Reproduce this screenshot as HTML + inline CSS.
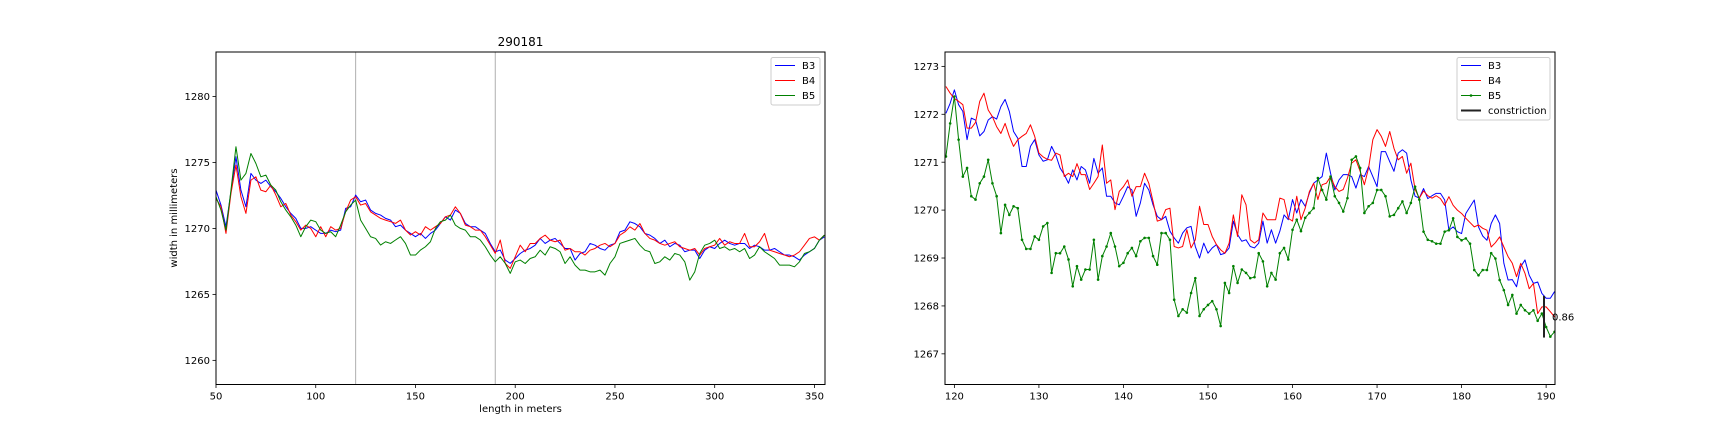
<!DOCTYPE html>
<html><head><meta charset="utf-8"><style>
html,body{margin:0;padding:0;background:#fff;}
svg{display:block;font-family:"DejaVu Sans","Liberation Sans",sans-serif;}
</style></head><body>
<svg id="fig" width="1728" height="432" viewBox="0 0 1728 432" xmlns="http://www.w3.org/2000/svg">
<rect width="1728" height="432" fill="#fff"/>
<g id="left"></g>
<g id="right"></g>
</svg>
<script>
// ---------- LEFT CHART DATA (length start 50 m, step 2.5 m) ----------
const leftStart = 50, leftStep = 2.5;
const leftXTicks = [50,100,150,200,250,300,350];
const leftYTicks = [1260,1265,1270,1275,1280];
const leftMarkers = [120,190];
const leftB3 = [1272.9,1271.77,1270.13,1272.78,1275.43,1272.9,1271.64,1274.17,1273.66,1273.41,1273.66,1273.16,1272.78,1272.27,1271.64,1271.14,1270.76,1270.0,1270.0,1270.13,1269.87,1269.62,1269.62,1269.87,1269.75,1269.87,1271.52,1271.64,1272.53,1272.02,1272.15,1271.39,1271.14,1271.01,1270.76,1270.63,1270.13,1270.25,1269.87,1269.62,1269.37,1269.62,1269.24,1269.62,1269.87,1270.38,1270.88,1270.63,1271.39,1271.14,1270.38,1270.13,1270.13,1269.87,1269.62,1268.86,1268.23,1268.36,1267.6,1267.35,
1267.72,1268.1,1268.35,1268.48,1268.73,1269.24,1268.86,1269.11,1269.24,1268.86,1268.48,1268.48,1267.6,1268.1,1268.23,1268.86,1268.73,1268.48,1268.35,1268.73,1268.86,1269.74,1269.87,1270.5,1270.37,1270.12,1269.62,1269.49,1269.24,1268.86,1269.11,1268.61,1268.86,1268.73,1268.23,1268.35,1268.35,1267.72,1268.35,1268.61,1268.48,1268.86,1269.11,1268.86,1268.73,1268.86,1268.86,1268.48,1268.73,1268.61,1268.35,1268.35,1268.48,1268.23,1267.98,1267.98,1267.85,1267.6,1267.98,1268.23,1268.48,1269.11,1269.36];
const leftB4 = [1272.27,1271.64,1269.62,1272.65,1274.8,1272.4,1271.14,1273.66,1273.91,1272.9,1272.78,1273.28,1272.53,1271.64,1271.89,1271.01,1270.51,1269.87,1270.25,1270.0,1269.37,1270.13,1269.37,1270.13,1269.87,1270.0,1271.26,1272.15,1272.4,1271.77,1271.89,1271.26,1271.01,1270.76,1270.63,1270.51,1270.38,1270.63,1269.87,1269.5,1269.75,1269.5,1270.13,1269.87,1270.13,1270.38,1270.88,1271.01,1271.64,1271.14,1270.25,1270.13,1269.87,1269.87,1269.37,1268.74,1268.11,1269.12,1267.35,1266.97,
1267.85,1268.73,1268.23,1268.86,1268.86,1269.24,1269.49,1269.11,1268.99,1269.11,1268.35,1268.48,1268.23,1268.23,1267.98,1268.35,1268.48,1268.73,1268.86,1268.61,1268.86,1269.49,1269.74,1270.12,1269.87,1270.37,1269.62,1269.24,1269.11,1268.86,1268.73,1268.86,1268.99,1268.61,1268.48,1268.35,1268.48,1267.98,1268.48,1268.61,1268.73,1269.24,1268.73,1268.99,1268.86,1268.86,1269.62,1268.61,1268.61,1268.99,1269.62,1268.35,1268.23,1268.1,1267.98,1267.85,1267.98,1268.23,1268.73,1269.24,1269.36,1269.11,1269.49];
const leftB5 = [1272.4,1271.39,1269.87,1272.9,1276.19,1273.66,1274.17,1275.68,1274.92,1273.91,1274.04,1273.28,1272.9,1272.02,1271.39,1270.88,1270.25,1269.37,1270.13,1270.63,1270.51,1269.87,1269.62,1269.75,1269.37,1270.25,1271.26,1271.77,1272.15,1270.63,1270.0,1269.37,1269.24,1268.74,1268.99,1268.86,1269.12,1269.37,1268.86,1267.98,1267.98,1268.36,1268.61,1268.99,1270.0,1270.51,1270.63,1271.01,1270.25,1270.0,1269.87,1269.37,1269.37,1269.12,1268.61,1267.98,1267.47,1267.85,1267.35,1266.59,
1267.47,1267.6,1267.34,1267.72,1267.85,1268.35,1267.98,1268.61,1268.48,1268.23,1267.34,1267.85,1267.22,1266.84,1266.84,1266.71,1266.71,1266.84,1266.46,1267.34,1267.85,1268.86,1268.99,1269.11,1269.24,1268.73,1268.35,1268.23,1267.34,1267.47,1267.85,1267.6,1268.1,1267.98,1267.47,1266.08,1266.71,1268.1,1268.73,1268.86,1269.11,1268.48,1268.61,1268.35,1268.48,1268.23,1268.48,1267.72,1267.98,1268.61,1268.23,1267.98,1267.72,1267.22,1267.22,1267.22,1267.09,1267.47,1268.1,1268.23,1268.48,1269.11,1269.49];

// ---------- RIGHT CHART DATA (length start 119 m, step 0.5 m) ----------
const rightStart = 119, rightStep = 0.5;
const rightXTicks = [120,130,140,150,160,170,180,190];
const rightYTicks = [1267,1268,1269,1270,1271,1272,1273];
const constrictionAt = [189.75];
const constrictionRange = [1268.21,1267.34];
const constrictionLabel = ["0.86"];
const rightB3 = [1272.02,1272.23,1272.51,1272.2,1272.06,1271.47,1271.92,1271.88,1271.55,1271.64,1271.88,1271.95,1271.9,1272.16,1272.31,1272.06,1271.64,1271.5,1270.91,1270.91,1271.33,1271.47,1271.15,1271.02,1271.05,1271.33,1271.15,1270.88,1270.74,1270.56,1270.84,1270.63,1270.91,1270.84,1270.56,1271.08,1270.77,1270.88,1270.29,1270.29,1270.15,1270.11,1270.29,1270.49,
1270.42,1269.87,1270.15,1270.56,1270.42,1270.11,1269.87,1269.8,1269.87,1269.56,1269.42,1269.31,1269.52,1269.63,1269.66,1269.24,1269.0,1269.31,1269.1,1269.21,1269.28,1269.07,1269.1,1269.21,1269.77,1269.49,1269.35,1269.38,1269.24,1269.21,1269.31,1269.77,1269.31,1269.59,1269.31,1269.56,1269.9,1269.8,1270.22,1269.94,1270.22,1270.08,1270.36,1270.56,1270.63,1270.7,1271.19,1270.77,1270.42,1270.63,1270.74,1270.74,1270.7,1270.46,1270.74,1270.7,1270.91,1270.7,1270.49,1271.22,1271.22,1271.01,1270.81,1271.19,1271.26,1271.19,1270.63,1270.29,1270.25,
1270.45,1270.24,1270.3,1270.35,
1270.35,1270.21,1269.58,1269.65,1269.55,1269.51,1269.93,1270.07,1270.21,1269.65,1269.46,1269.37,1269.72,1269.9,1269.72,1268.89,1268.54,1268.55,1268.4,1268.82,1268.96,1268.64,1268.47,1268.5,1268.26,1268.16,1268.16,1268.3];
const rightB4 = [1272.58,1272.44,1272.33,1272.27,1272.2,1271.71,1271.71,1271.83,1272.27,1272.44,1272.09,1271.95,1271.74,1271.6,1271.81,1271.54,1271.33,1271.47,1271.54,1271.6,1271.78,1271.54,1271.19,1271.11,1271.06,1271.04,1271.19,1271.15,1270.7,1270.77,1270.7,1270.97,1270.74,1270.74,1270.43,1270.56,1270.7,1271.36,1270.56,1270.63,1270.01,1270.39,1270.49,1270.63,
1270.29,1270.49,1270.49,1270.77,1270.56,1270.18,1269.77,1269.8,1270.01,1270.04,1269.24,1269.21,1269.24,1269.59,1269.21,1269.38,1270.08,1269.7,1269.7,1269.45,1269.28,1269.17,1269.1,1269.31,1269.9,1269.45,1270.32,1270.11,1269.38,1269.31,1269.38,1269.94,1269.8,1269.8,1269.8,1270.25,1270.22,1269.83,1269.77,1270.29,1269.8,1270.04,1270.39,1270.56,1270.22,1270.53,1270.56,1270.7,1270.49,1270.39,1270.43,1270.67,1270.98,1271.05,1270.81,1270.53,1270.88,1271.47,1271.68,1271.54,1271.33,1271.64,1271.29,1271.05,1271.12,1270.77,1270.98,1270.43,1270.25,
1270.4,1270.3,1270.25,1270.3,
1270.24,1270.1,1270.28,1270.1,1270.0,1269.93,1269.83,1269.74,1269.65,1269.69,1269.62,1269.58,1269.23,1269.32,1269.44,1269.23,1269.03,1268.89,1268.61,1268.89,1268.68,1268.36,1268.47,1267.84,1267.98,1267.98,1267.88,1267.77];
const rightB5 = [1271.12,1271.81,1272.37,1271.47,1270.7,1270.88,1270.29,1270.22,1270.56,1270.7,1271.05,1270.56,1270.29,1269.52,1270.11,1269.9,1270.08,1270.04,1269.38,1269.19,1269.19,1269.45,1269.38,1269.66,1269.73,1268.69,1269.1,1269.1,1269.24,1268.97,1268.41,1268.83,1268.55,1268.76,1268.76,1269.38,1268.55,1269.04,1269.24,1269.52,1269.24,1268.83,1268.9,1269.1,
1269.21,1269.04,1269.35,1269.42,1269.42,1269.04,1268.86,1269.52,1269.52,1269.38,1268.13,1267.79,1267.93,1267.86,1268.27,1268.58,1267.79,1267.93,1268.02,1268.1,1267.93,1267.58,1268.48,1268.27,1268.83,1268.48,1268.76,1268.69,1268.58,1268.6,1269.1,1268.93,1268.41,1268.69,1268.55,1269.1,1269.21,1268.97,1269.59,1269.8,1269.56,1269.84,1269.94,1270.04,1270.67,1270.42,1270.22,1270.7,1270.29,1270.15,1269.97,1270.25,1271.05,1271.12,1270.88,1269.94,1270.08,1270.15,1270.42,1270.42,1270.29,1269.87,1269.9,1270.04,1270.18,1269.94,1270.15,1270.49,1270.22,
1269.55,1269.38,1269.35,1269.3,
1269.3,1269.55,1269.58,1269.83,1269.44,1269.37,1269.41,1269.3,1268.75,1268.64,1268.75,1268.75,1269.1,1268.99,1268.54,1268.33,1268.02,1268.23,1267.84,1268.02,1267.91,1267.84,1267.91,1267.69,1267.84,1267.56,1267.36,1267.46];

const NS = "http://www.w3.org/2000/svg";
function mk(parent, tag, attrs, text){
  const e = document.createElementNS(NS, tag);
  for (const k in attrs) e.setAttribute(k, attrs[k]);
  if (text !== undefined) e.textContent = text;
  parent.appendChild(e);
  return e;
}
function lin(d0,d1,r0,r1){ return v => r0 + (v-d0)*(r1-r0)/(d1-d0); }

function axesFrame(g, L, T, R, B, xs, ys, xTicks, yTicks){
  const frame = mk(g,'rect',{x:L,y:T,width:R-L,height:B-T,fill:'none',stroke:'#000','stroke-width':1});
  
  
  xTicks.forEach(t=>{
    const x = xs(t);
    const tk = mk(g,'line',{x1:x,y1:B,x2:x,y2:B+3.5,stroke:'#000','stroke-width':0.8});
    
    
    const lb = mk(g,'text',{x:x,y:B+15,'font-size':10,'text-anchor':'middle',fill:'#000'},String(t));
    
    
  });
  yTicks.forEach(t=>{
    const y = ys(t);
    const tk = mk(g,'line',{x1:L-3.5,y1:y,x2:L,y2:y,stroke:'#000','stroke-width':0.8});
    
    
    const lb = mk(g,'text',{x:L-6,y:y+3.6,'font-size':10,'text-anchor':'end',fill:'#000'},String(t));
    
    
  });
}
function series(g, arr, start, step, xs, ys, color, name, markers){
  const pts = arr.map((v,i)=> xs(start+i*step).toFixed(2)+','+ys(v).toFixed(2)).join(' ');
  const pl = mk(g,'polyline',{points:pts,fill:'none',stroke:color,'stroke-width':1,'stroke-linejoin':'round'});
  
  
  if (markers){
    arr.forEach((v,i)=>{
      const c = mk(g,'circle',{cx:xs(start+i*step),cy:ys(v),r:1.3,fill:color});
      
      
    });
  }
}
function legend(g, x0, y0, w, h, entries){
  const box = mk(g,'rect',{x:x0,y:y0,width:w,height:h,rx:2,fill:'#fff','fill-opacity':0.8,stroke:'#ccc','stroke-width':1});
  
  
  entries.forEach((e,i)=>{
    const y = y0+8+i*15;
    const ln = mk(g,'line',{x1:x0+4,y1:y,x2:x0+24,y2:y,stroke:e.c,'stroke-width':e.w||1});
    
    
    if (e.m){
      const c = mk(g,'circle',{cx:x0+14,cy:y,r:1.3,fill:e.c});
      
      
    }
    const t = mk(g,'text',{x:x0+31,y:y+3.6,'font-size':10,fill:'#000'},e.t);
    
    
  });
}

// ----- left chart -----
(function(){
  const g = document.getElementById('left');
  const L=216,R=825,T=52,B=384.5;
  const xs = lin(50,355.3,L,R);
  const ys = lin(1258.17,1283.37,B,T);
  const clip = mk(g,'clipPath',{id:'clipL'});
  mk(clip,'rect',{x:L,y:T,width:R-L,height:B-T});
  const plot = mk(g,'g',{'clip-path':'url(#clipL)'});
  
  
  leftMarkers.forEach(m=>{
    const l = mk(plot,'line',{x1:xs(m),y1:T,x2:xs(m),y2:B,stroke:'#b0b0b0','stroke-width':1});
    
    
  });
  series(plot,leftB3,leftStart,leftStep,xs,ys,'#0000ff','series-b3',false);
  series(plot,leftB4,leftStart,leftStep,xs,ys,'#ff0000','series-b4',false);
  series(plot,leftB5,leftStart,leftStep,xs,ys,'#008000','series-b5',false);
  axesFrame(g,L,T,R,B,xs,ys,leftXTicks,leftYTicks);
  const title = mk(g,'text',{x:(L+R)/2,y:46,'font-size':12,'text-anchor':'middle',fill:'#000'},'290181');
  
  
  const xl = mk(g,'text',{x:(L+R)/2,y:412,'font-size':10,'text-anchor':'middle',fill:'#000'},'length in meters');
  
  
  const yl = mk(g,'text',{x:0,y:0,'font-size':10,'text-anchor':'middle',fill:'#000',transform:'translate(177,218) rotate(-90)'},'width in millimeters');
  
  
  legend(g,771,57.5,49,47.5,[{t:'B3',c:'#0000ff'},{t:'B4',c:'#ff0000'},{t:'B5',c:'#008000'}]);
})();

// ----- right chart -----
(function(){
  const g = document.getElementById('right');
  const L=945,R=1555,T=52,B=384.5;
  const xs = lin(118.89,191.05,L,R);
  const ys = lin(1266.36,1273.30,B,T);
  const clip = mk(g,'clipPath',{id:'clipR'});
  mk(clip,'rect',{x:L,y:T,width:R-L,height:B-T});
  const plot = mk(g,'g',{'clip-path':'url(#clipR)'});
  
  
  series(plot,rightB3,rightStart,rightStep,xs,ys,'#0000ff','series-b3',false);
  series(plot,rightB4,rightStart,rightStep,xs,ys,'#ff0000','series-b4',false);
  series(plot,rightB5,rightStart,rightStep,xs,ys,'#008000','series-b5',true);
  const c = mk(plot,'line',{x1:xs(constrictionAt[0]),y1:ys(constrictionRange[0]),x2:xs(constrictionAt[0]),y2:ys(constrictionRange[1]),stroke:'#222','stroke-width':2});
  
  
  axesFrame(g,L,T,R,B,xs,ys,rightXTicks,rightYTicks);
  const lab = mk(g,'text',{x:xs(constrictionAt[0])+8,y:ys((constrictionRange[0]+constrictionRange[1])/2)+3.6,'font-size':10,fill:'#000'},constrictionLabel[0]);
  
  
  legend(g,1457,57.5,93,62.5,[{t:'B3',c:'#0000ff'},{t:'B4',c:'#ff0000'},{t:'B5',c:'#008000',m:true},{t:'constriction',c:'#222',w:2}]);
})();
</script>
</body></html>
